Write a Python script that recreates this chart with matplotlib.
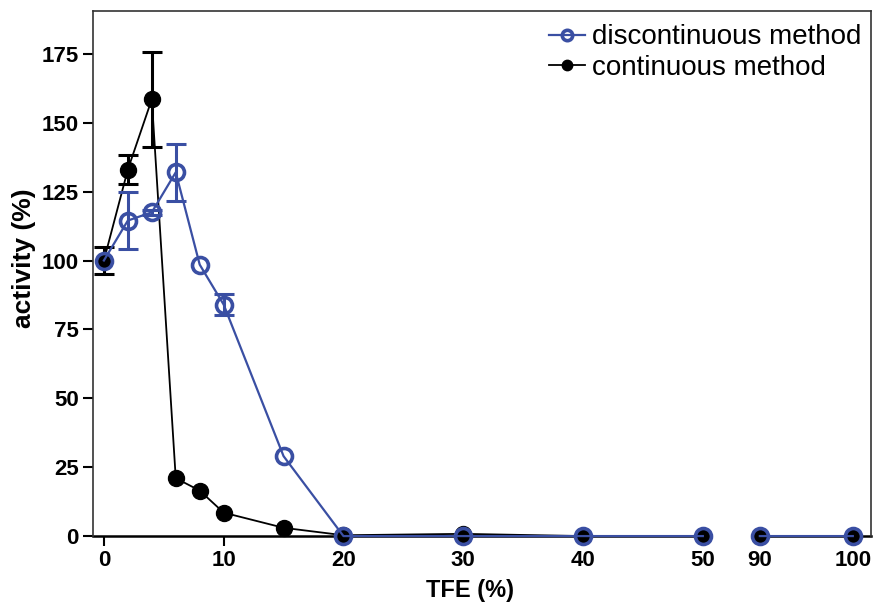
import numpy as np
import matplotlib.pyplot as plt

plt.rcParams['font.family'] = ['Liberation Sans', 'DejaVu Sans']

# TFE concentrations (%)
tfe = [0, 2, 4, 6, 8, 10, 15, 20, 30, 40, 50, 90, 100]

disc_act = [100, 114.5, 117.5, 132, 98.5, 84, 29, 0, 0, 0, 0, 0, 0]
disc_err = [0, 10.5, 1, 10.3, 0, 3.7, 0, 0, 0, 0, 0, 0, 0]

cont_act = [100, 133, 158.5, 21, 16.5, 8.5, 3, 0.3, 0.8, 0, 0, 0, 0]
cont_err = [5, 5.2, 17.2, 0, 0, 0, 0, 0, 0, 0, 0, 0, 0]

xticks = [0, 10, 20, 30, 40, 50, 90, 100]
yticks = [0, 25, 50, 75, 100, 125, 150, 175]

BLUE = '#3a4fa3'

# broken x axis: 0-50 linear, 50-90 squeezed, 90-100 slightly compressed
B1, B2, K = 50.0, 54.76, 0.776


def fwd(x):
    x = np.asarray(x, dtype=float)
    return np.where(x <= 50, x,
                    np.where(x < 90, B1 + (x - 50) * (B2 - B1) / 40.0,
                             B2 + (x - 90) * K))


def inv(u):
    u = np.asarray(u, dtype=float)
    return np.where(u <= B1, u,
                    np.where(u < B2, 50 + (u - B1) * 40.0 / (B2 - B1),
                             90 + (u - B2) / K))


def split_break(x, y):
    # insert a gap between 50 and 90 so lines do not cross the break
    x = np.asarray(x, dtype=float)
    y = np.asarray(y, dtype=float)
    i = np.searchsorted(x, 90)
    return np.insert(x, i, np.nan), np.insert(y, i, np.nan)


fig = plt.figure(figsize=(8.76, 6.03), dpi=100)
ax = fig.add_axes([0.106, 0.111, 0.888, 0.871])
ax.set_xscale('function', functions=(fwd, inv))

x = np.array(tfe, dtype=float)

# continuous method (black, filled)
ce = np.array(cont_err)
m = ce > 0
ax.errorbar(x[m], np.array(cont_act)[m], yerr=ce[m], fmt='none', ecolor='black',
            elinewidth=2.2, capsize=7, capthick=2.2, zorder=2, clip_on=False)
xs, ys = split_break(tfe, cont_act)
ax.plot(xs, ys, color='black', lw=1.3, marker='o', ms=11.5, mfc='black',
        mec='black', zorder=3, clip_on=False, label='continuous method')

# discontinuous method (blue, open)
de = np.array(disc_err)
m = de > 0
ax.errorbar(x[m], np.array(disc_act)[m], yerr=de[m], fmt='none', ecolor=BLUE,
            elinewidth=2.2, capsize=7, capthick=2.2, zorder=4, clip_on=False)
xs, ys = split_break(tfe, disc_act)
ax.plot(xs, ys, color=BLUE, lw=1.6, marker='o', ms=11.5, mfc='none',
        mec=BLUE, mew=2.6, zorder=5, clip_on=False, label='discontinuous method')

ax.set_xlim(-0.92, 101.93)
ax.set_ylim(0, 190.6)
ax.set_xticks(xticks)
ax.set_xticklabels([str(t) for t in xticks])
ax.set_yticks(yticks)
ax.minorticks_off()

for s in ['left', 'top', 'right']:
    ax.spines[s].set_color('#333333')
    ax.spines[s].set_linewidth(1.2)
ax.spines['bottom'].set_visible(False)

# broken bottom axis line with end marks
u0, u1 = fwd(-0.92), fwd(101.93)
def afrac(v):
    return (fwd(v) - u0) / (u1 - u0)
seg1 = (0.0, afrac(51.1))
seg2 = (afrac(89.0), 1.0)
tr = ax.transAxes
for a, b in (seg1, seg2):
    ax.plot([a, b], [0, 0], color='black', lw=1.8, transform=tr, clip_on=False, zorder=1)
for e in (seg1[1], seg2[0]):
    ax.plot([e, e], [-0.008, 0.008], color='black', lw=1.2, transform=tr, clip_on=False, zorder=1)

ax.tick_params(axis='both', direction='out', length=7, width=1.5, color='black',
               labelsize=16, pad=3)
for lab in ax.get_xticklabels() + ax.get_yticklabels():
    lab.set_fontweight('bold')

ax.set_xlabel('TFE (%)', fontsize=17, fontweight='bold')
ax.set_ylabel('activity (%)', fontsize=19, fontweight='bold')
ax.xaxis.set_label_coords(0.4846, -0.082)
ax.yaxis.set_label_coords(-0.0887, 0.53)
ax.yaxis.label.set_va('center')

h, l = ax.get_legend_handles_labels()
ax.legend(h[::-1], l[::-1], loc='upper right', frameon=False, fontsize=20,
          handlelength=1.3, handletextpad=0.25, markerscale=0.65,
          borderaxespad=0.05, labelspacing=0.15, bbox_to_anchor=(1.004, 0.998))

fig.savefig('out.png', dpi=100)
